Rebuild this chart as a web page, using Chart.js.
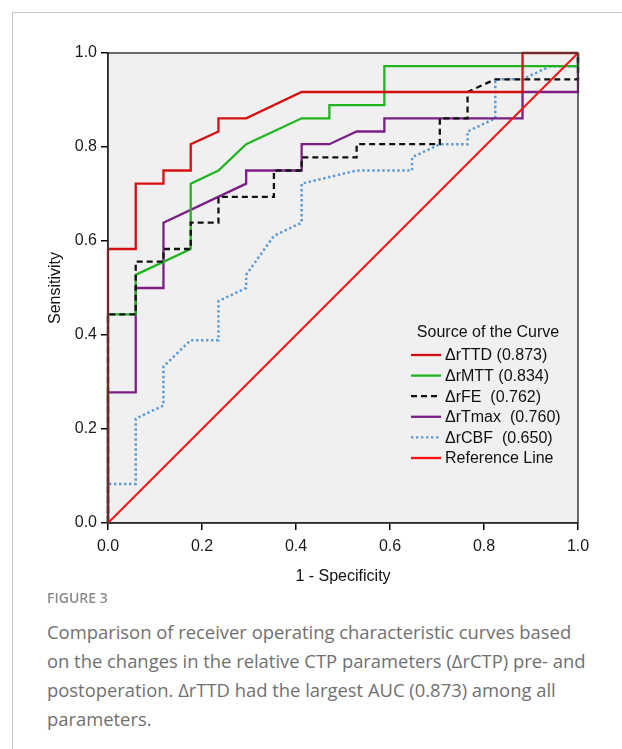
<!DOCTYPE html>
<html>
<head>
<meta charset="utf-8">
<script src="https://cdn.jsdelivr.net/npm/chart.js"></script>
<style>
  body { margin: 0; background: #fff; width: 622px; height: 749px; overflow: hidden; position: relative; }
  .card { position: absolute; left: 12px; top: 12px; right: 0; bottom: 0; border-left: 1px solid #c8c8c8; border-top: 1px solid #c8c8c8; }
  #roc { position: absolute; left: 0; top: 0; }
  .fig { position: absolute; left: 47px; top: 588px; font-family: "Open Sans", sans-serif; font-size: 14px; font-weight: 600; color: #8a8a8a; }
  .cap { position: absolute; left: 47px; top: 617px; width: 572px; white-space: nowrap; font-family: "Open Sans", sans-serif; font-size: 18.4px; line-height: 29px; color: #707070; }
</style>
</head>
<body>
<div class="card"></div>
<canvas id="roc" width="622" height="600"></canvas>
<div class="fig">FIGURE 3</div>
<div class="cap">Comparison of receiver operating characteristic curves based<br>on the changes in the relative CTP parameters (ΔrCTP) pre- and<br>postoperation. ΔrTTD had the largest AUC (0.873) among all<br>parameters.</div>
<script>
// egri nomlari (legend uchun)
const curveLabels = ['ΔrTTD (0.873)', 'ΔrMTT (0.834)', 'ΔrFE  (0.762)', 'ΔrTmax  (0.760)', 'ΔrCBF  (0.650)', 'Reference Line'];
const axisTicks = [0.0, 0.2, 0.4, 0.6, 0.8, 1.0];

// 1 - specificity (x) va sensitivity (y) qiymatlari
const ttdX = [0, 0, 0.059, 0.059, 0.118, 0.118, 0.176, 0.176, 0.235, 0.235, 0.294, 0.412, 0.882, 0.882, 1];
const ttdY = [0, 0.583, 0.583, 0.722, 0.722, 0.75, 0.75, 0.806, 0.833, 0.861, 0.861, 0.917, 0.917, 1, 1];

const mttX = [0, 0, 0.059, 0.059, 0.176, 0.176, 0.235, 0.294, 0.412, 0.471, 0.471, 0.588, 0.588, 1, 1];
const mttY = [0, 0.444, 0.444, 0.528, 0.583, 0.722, 0.75, 0.806, 0.861, 0.861, 0.889, 0.889, 0.972, 0.972, 1];

const feX = [0, 0, 0.059, 0.059, 0.118, 0.118, 0.176, 0.176, 0.235, 0.235, 0.353, 0.353, 0.412, 0.412, 0.529, 0.529, 0.706, 0.706, 0.765, 0.765, 0.824, 1, 1];
const feY = [0, 0.444, 0.444, 0.556, 0.556, 0.583, 0.583, 0.639, 0.639, 0.694, 0.694, 0.75, 0.75, 0.778, 0.778, 0.806, 0.806, 0.861, 0.861, 0.917, 0.944, 0.944, 1];

const tmaxX = [0, 0, 0.059, 0.059, 0.118, 0.118, 0.294, 0.294, 0.412, 0.412, 0.471, 0.529, 0.588, 0.588, 0.882, 0.882, 1, 1];
const tmaxY = [0, 0.278, 0.278, 0.5, 0.5, 0.639, 0.722, 0.75, 0.75, 0.806, 0.806, 0.833, 0.833, 0.861, 0.861, 0.917, 0.917, 1];

const cbfX = [0, 0, 0.059, 0.059, 0.118, 0.118, 0.176, 0.235, 0.235, 0.294, 0.294, 0.353, 0.412, 0.412, 0.529, 0.647, 0.647, 0.706, 0.765, 0.765, 0.824, 0.824, 0.882, 0.941, 1, 1];
const cbfY = [0, 0.083, 0.083, 0.222, 0.25, 0.333, 0.389, 0.389, 0.472, 0.5, 0.528, 0.611, 0.639, 0.722, 0.75, 0.75, 0.778, 0.806, 0.806, 0.833, 0.861, 0.944, 0.944, 0.972, 0.972, 1];

const refX = [0, 1];
const refY = [0, 1];

const FONT = '"Liberation Sans", Arial, sans-serif';

function pts(xs, ys) {
    return xs.map((x, i) => ({ x: x, y: ys[i] }));
}

// egri sozlamalari
const curves = [
    { x: ttdX,  y: ttdY,  color: '#d40f0f', dash: [],     width: 2.3, order: 1 },
    { x: mttX,  y: mttY,  color: '#22b522', dash: [],     width: 2.3, order: 3 },
    { x: feX,   y: feY,   color: '#111111', dash: [6, 4], width: 2.3, order: 2 },
    { x: tmaxX, y: tmaxY, color: '#7b1f86', dash: [],     width: 2.3, order: 4 },
    { x: cbfX,  y: cbfY,  color: '#5b9bd5', dash: [2.4, 2.6], width: 2.5, order: 5 },
    { x: refX,  y: refY,  color: '#ff1010', dash: [],     width: 2,   order: 0 }
];

const datasets = curves.map((c, i) => ({
    label: curveLabels[i],
    data: pts(c.x, c.y),
    borderColor: c.color,
    borderDash: c.dash,
    borderWidth: c.width,
    pointRadius: 0,
    showLine: true,
    tension: 0,
    clip: false,
    order: c.order
}));

// kulrang fon va ramka
const plotFrame = {
    id: 'plotFrame',
    beforeDraw(chart) {
        const a = chart.chartArea, ctx = chart.ctx;
        ctx.save();
        ctx.fillStyle = '#f0f0f0';
        ctx.fillRect(a.left, a.top, a.right - a.left, a.bottom - a.top);
        ctx.restore();
    },
    afterDatasetsDraw(chart) {
        const a = chart.chartArea, ctx = chart.ctx;
        ctx.save();
        ctx.strokeStyle = '#3a3a3a';
        ctx.lineWidth = 1.5;
        ctx.strokeRect(a.left, a.top, a.right - a.left, a.bottom - a.top);
        ctx.restore();
    }
};

// SPSS uslubidagi legend (grafik ichida)
const insideLegend = {
    id: 'insideLegend',
    afterDatasetsDraw(chart) {
        const ctx = chart.ctx;
        ctx.save();
        ctx.font = '16px ' + FONT;
        ctx.fillStyle = '#111';
        ctx.textBaseline = 'middle';
        ctx.textAlign = 'center';
        ctx.fillText('Source of the Curve', 488, 333);
        ctx.textAlign = 'left';
        chart.data.datasets.forEach((ds, i) => {
            const y = 355 + i * 20.6;
            ctx.beginPath();
            ctx.strokeStyle = ds.borderColor;
            ctx.lineWidth = 2.3;
            ctx.setLineDash(ds.borderDash);
            ctx.moveTo(411, y);
            ctx.lineTo(441, y);
            ctx.stroke();
            ctx.setLineDash([]);
            ctx.fillText(ds.label, 445, y + 1);
        });
        ctx.restore();
    }
};

const axisCommon = {
    type: 'linear',
    min: 0,
    max: 1,
    afterBuildTicks: (s) => { s.ticks = axisTicks.map(v => ({ value: v })); },
    ticks: {
        callback: (v) => Number(v).toFixed(1),
        font: { family: FONT, size: 16 },
        color: '#1a1a1a'
    },
    grid: { drawOnChartArea: false, drawTicks: true, tickLength: 7, color: '#000', lineWidth: 1.5 },
    border: { display: true, color: '#000', width: 1.5 }
};

new Chart(document.getElementById('roc'), {
    type: 'scatter',
    data: { datasets: datasets },
    options: {
        responsive: false,
        devicePixelRatio: 1,
        animation: false,
        layout: { padding: { top: 53, right: 44, bottom: 0, left: 0 } },
        plugins: { legend: { display: false }, tooltip: { enabled: false } },
        scales: {
            x: Object.assign({}, axisCommon, {
                ticks: Object.assign({}, axisCommon.ticks, { padding: 7 }),
                title: { display: true, text: '1 - Specificity', font: { family: FONT, size: 16 }, color: '#111', padding: { top: 0, bottom: 14 } },
                afterFit: (s) => { s.height = 77; }
            }),
            y: Object.assign({}, axisCommon, {
                ticks: Object.assign({}, axisCommon.ticks, { padding: 4 }),
                title: { display: true, text: 'Sensitivity', font: { family: FONT, size: 16 }, color: '#111', padding: { top: 46, bottom: 0 } },
                afterFit: (s) => { s.width = 108; }
            })
        }
    },
    plugins: [plotFrame, insideLegend]
});
</script>
</body>
</html>
